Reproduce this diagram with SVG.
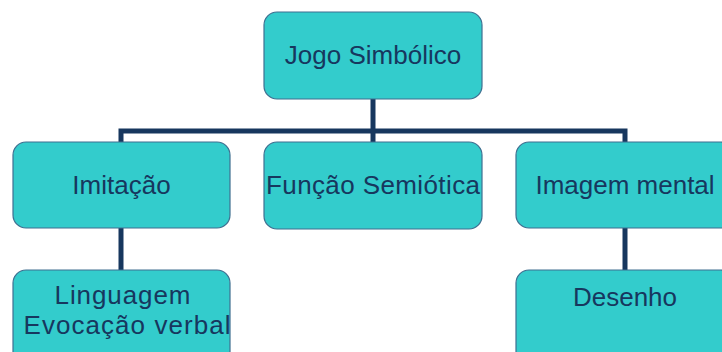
<svg xmlns="http://www.w3.org/2000/svg" width="722" height="352" viewBox="0 0 722 352">
<style>
.box{fill:#33CCCC;stroke:#3F6F90;stroke-width:1.2}
.lbl{font-family:"Liberation Sans",Arial,sans-serif;font-size:26px;fill:#17375E;text-anchor:middle}
.con{stroke:#17375E;stroke-width:5;fill:none;stroke-linecap:butt}
</style>
<rect width="722" height="352" fill="#FFFFFF"/>
<g id="connectors">
<path class="con" d="M373 99 V131"/>
<path class="con" d="M121 142 V131 H625 V142"/>
<path class="con" d="M373 131 V142"/>
<path class="con" d="M121 228 V270"/>
<path class="con" d="M625 228 V270"/>
</g>
<g id="jogo">
<rect class="box" x="264" y="12" width="218" height="87" rx="13"/>
<text class="lbl" x="373" y="64">Jogo Simbólico</text>
</g>
<g id="imitacao">
<rect class="box" x="13" y="142" width="217" height="86" rx="13"/>
<text class="lbl" x="121.5" y="194">Imitação</text>
</g>
<g id="funcao">
<rect class="box" x="264" y="142" width="218" height="87" rx="13"/>
<text class="lbl" x="373" y="194" textLength="214" lengthAdjust="spacing">Função Semiótica</text>
</g>
<g id="imagem">
<rect class="box" x="516" y="142" width="218" height="86" rx="13"/>
<text class="lbl" x="625" y="194">Imagem mental</text>
</g>
<g id="linguagem">
<rect class="box" x="13" y="270" width="217" height="100" rx="13"/>
<text class="lbl" x="122.5" y="304" textLength="136" lengthAdjust="spacing">Linguagem</text>
<text class="lbl" x="127" y="334" textLength="207" lengthAdjust="spacing">Evocação verbal</text>
</g>
<g id="desenho">
<rect class="box" x="516" y="270" width="218" height="100" rx="13"/>
<text class="lbl" x="625" y="306">Desenho</text>
</g>
</svg>
